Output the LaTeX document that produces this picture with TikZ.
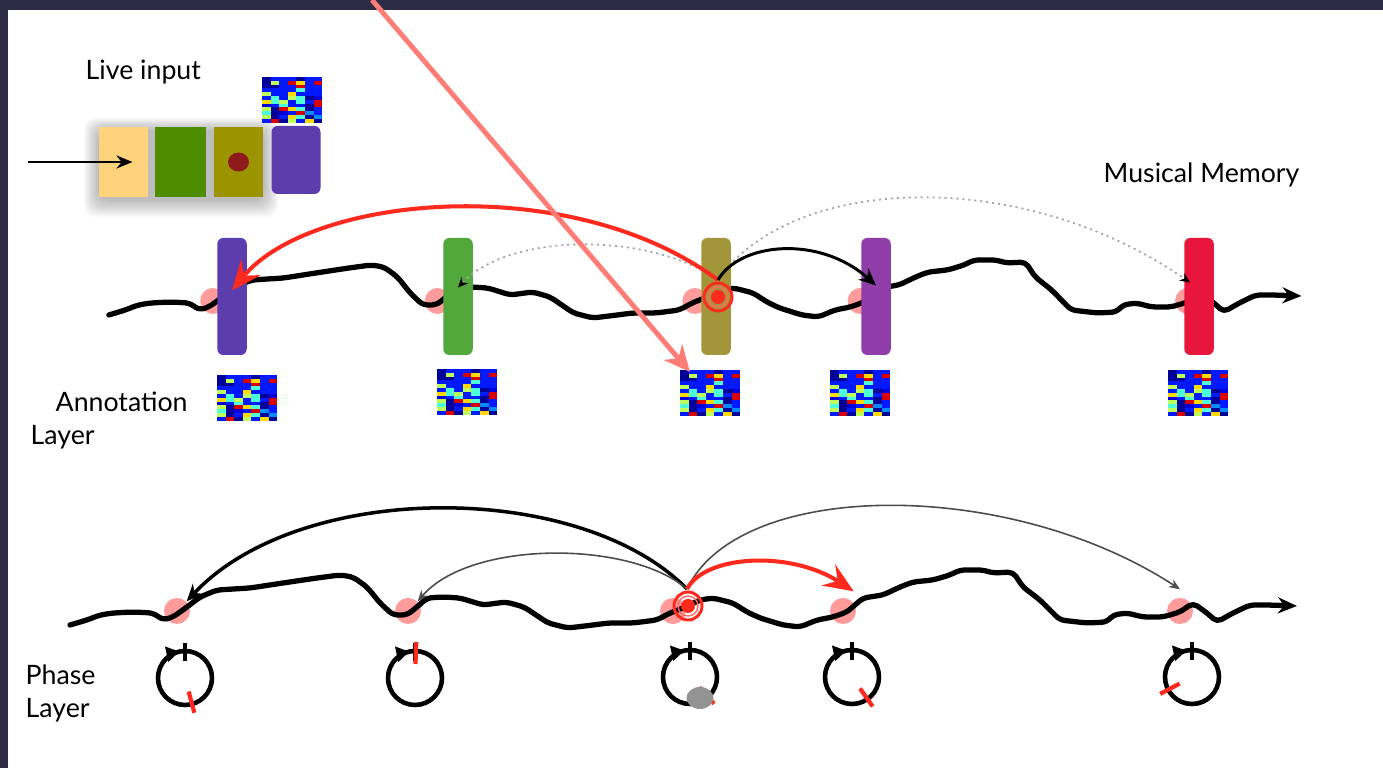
\documentclass[tikz,border=0pt]{standalone}
\usepackage{fontspec}
\setmainfont{Lato}
\usepackage{xcolor}
\usetikzlibrary{arrows.meta,positioning}
\definecolor{slate}{HTML}{2D2C44}
\definecolor{cueline}{HTML}{FF7D76}
\definecolor{hitred}{HTML}{FF2A1E}
\definecolor{onsetpink}{HTML}{FF8A8A}
\definecolor{boxpurple}{HTML}{5B3DAE}
\definecolor{boxgreen}{HTML}{52A83A}
\definecolor{boxolive}{HTML}{A3953A}
\definecolor{boxviolet}{HTML}{8F3DA8}
\definecolor{boxred}{HTML}{E8163C}
\definecolor{liveyellow}{HTML}{FFD37C}
\definecolor{livegreen}{HTML}{4F8D00}
\definecolor{liveolive}{HTML}{9B9300}
\definecolor{livedot}{HTML}{8E1B1B}
% chroma colours
\definecolor{hm0}{rgb}{0,0.1,1}
\definecolor{hm1}{rgb}{0,0,0.85}
\definecolor{hm2}{rgb}{0,0,0.6}
\definecolor{hm3}{rgb}{0,0.55,1}
\definecolor{hm4}{rgb}{0.3,1,0.85}
\definecolor{hm5}{rgb}{0.75,1,0.35}
\definecolor{hm6}{rgb}{1,0.85,0}
\definecolor{hm7}{rgb}{0.85,0,0}
\newcommand{\heatmap}[3]{%
  \coordinate (#3) at (#1,#2);
  \pgfmathsetseed{4321}
  \foreach \hr in {0,...,11}{
    \foreach \hc in {0,...,6}{
      \pgfmathrandominteger{\hv}{0}{15}
      \pgfmathtruncatemacro{\hk}{{0,0,0,0,1,2,2,0,3,4,5,6,0,4,7,2}[\hv]}
      \fill[fill=hm\hk] ({#1+\hc*8.6},{#2+\hr*3.8}) rectangle ++(8.65,3.85);
    }}
}
\newcommand{\phaseclock}[3]{%
  \draw[clockline] (#1,#2) circle[radius=27];
  \draw[clockline,-{Triangle[length=1.3mm,width=1.5mm]}] (#1,#2) ++(232:27) arc[start angle=232,end angle=258,radius=27];
  \draw[clockline] (#1,{#2-17}) -- (#1,{#2-35});
  \draw[phasetick] (#1,#2) ++(#3:14) -- ++(#3:22);
}
\newcommand{\hitmark}[1]{%
  \draw[hitred,line width=0.85pt] (#1) circle[radius=14];
  \draw[hitred!70,line width=0.4pt] (#1) circle[radius=10];
  \fill[hitred] (#1) circle[radius=7];
}
\newcommand{\groovepath}{(70,625) -- (87,620) -- (100,615) -- (113,613) -- (133,612) -- (153,613) -- (163,620) -- (173,617) -- (187,607) -- (200,597) -- (217,590) -- (250,588) -- (283,583) -- (317,578) -- (340,575) -- (353,577) -- (367,587) -- (380,603) -- (393,615) -- (407,615) -- (417,607) -- (427,598) -- (443,597) -- (460,598) -- (483,605) -- (506,602) -- (524,607) -- (548,623) -- (568,628) -- (593,625) -- (609,623) -- (633,623) -- (657,620) -- (670,613) -- (683,608) -- (700,600) -- (713,598) -- (733,603) -- (747,612) -- (760,618) -- (783,625) -- (800,627) -- (817,620) -- (833,617) -- (847,612) -- (863,598) -- (883,595) -- (900,587) -- (913,582) -- (933,580) -- (950,575) -- (960,570) -- (983,570) -- (993,573) -- (1013,572) -- (1023,587) -- (1040,600) -- (1060,620) -- (1087,623) -- (1107,622) -- (1113,615) -- (1127,613) -- (1143,617) -- (1163,617) -- (1180,612) -- (1193,603) -- (1207,613) -- (1217,622) -- (1233,613) -- (1250,605) -- (1267,605) -- (1297,606)}

\begin{document}
\begin{tikzpicture}[x=0.1mm,y=-0.1mm,>=Stealth,
  groove/.style={line width=1.5pt,line join=round,line cap=round,rounded corners=0.5mm,-{Stealth[length=1.9mm,width=1.6mm]}},
  onset/.style={circle,fill=onsetpink,opacity=0.85,minimum size=2.6mm,inner sep=0pt},
  memslot/.style={rectangle,rounded corners=0.6mm,minimum width=2.95mm,minimum height=11.7mm,inner sep=0pt},
  livebox/.style={rectangle,minimum width=4.9mm,minimum height=7mm,inner sep=0pt},
  lbl/.style={font=\fontsize{7.6}{9}\selectfont,anchor=base west,inner sep=0pt},
  ghost/.style={gray!70,line width=0.5pt,dash pattern=on 0.6pt off 1.1pt,-{Stealth[length=1mm,width=0.9mm,color=black]}},
  faint/.style={black!70,line width=0.45pt,-{Stealth[length=1.1mm,width=0.9mm]}},
  heavy/.style={black,line width=1pt,-{Stealth[length=1.7mm,width=1.5mm]}},
  jump/.style={hitred,line width=1.15pt,-{Stealth[length=3mm,width=2.5mm,inset=1.1mm]}},
  cue/.style={cueline,line width=1.4pt,-{Stealth[length=2.6mm,width=2.4mm,inset=0.8mm]}},
  clockline/.style={black,line width=1.3pt},
  phasetick/.style={hitred,line width=1.2pt}]
  \useasboundingbox (0,0) rectangle (1383,768);
  \fill[slate] (0,0) rectangle (1383,768);
  \fill[white] (8,10) rectangle (1383,768);

  % live input
  \foreach \s in {1,...,10}
    \fill[black,opacity=0.028,rounded corners=1.2mm] ({99-1.5*\s},{131-1.3*\s}) rectangle ({263+1.5*\s},{199+1.8*\s});
  \node[livebox,fill=liveyellow] (liveY) at (123.5,162) {};
  \node[livebox,fill=livegreen,minimum width=5.1mm] (liveG) at (180.5,162) {};
  \node[livebox,fill=liveolive] (liveO) at (238.5,162) {};
  \node[livebox,fill=boxpurple,rounded corners=0.6mm,minimum height=6.8mm] (liveP) at (296,160) {};
  \fill[livedot] (liveO.center) ellipse[x radius=10.5,y radius=9.5];
  \heatmap{262}{77}{hmLive}
  \coordinate (feedIn) at (28,162);
  \draw[black,line width=0.75pt,-{Stealth[length=1.6mm,width=1.3mm]}] (feedIn) -- ([xshift=0.9mm]liveY.center);
  \node[lbl] (liveLbl) at (85,80) {Live input};

  % musical memory
  \node[lbl] (memLbl) at (1103,183) {Musical Memory};
  \begin{scope}[shift={(40.8,-310)},xscale=0.972]
    \foreach \px in {177,408,673,843,1180}
      \fill[onsetpink,opacity=0.85] (\px,611) circle[radius=13];
    \draw[groove] \groovepath;
  \end{scope}
  \node[memslot,fill=boxpurple] (m1) at (232,296.5) {};
  \node[memslot,fill=boxgreen] (m2) at (458,296.5) {};
  \node[memslot,fill=boxviolet] (m4) at (876,296.5) {};
  \node[memslot,fill=boxred] (m5) at (1199,296.5) {};
  \coordinate (srcTop) at (718,280);
  \draw[ghost] (srcTop) .. controls (650,232) and (510,232) .. ([yshift=0.9mm]m2.center);
  \draw[ghost] (srcTop) .. controls (790,175) and (1020,165) .. ([shift={(-0.9mm,1.4mm)}]m5.center);
  \node[memslot,fill=boxolive] (m3) at (716,296.5) {};
  \draw[jump] (srcTop) .. controls (570,170) and (310,195) .. ([yshift=0.6mm]m1.center);
  \draw[heavy,line width=0.85pt] (srcTop) .. controls (740,242) and (820,235) .. ([yshift=1.1mm]m4.center);
  \coordinate (hitTop) at (718,297);
  \hitmark{hitTop}

  % annotation layer
  \heatmap{217}{375}{hm1}
  \heatmap{437}{369}{hm2}
  \heatmap{680}{370}{hm3}
  \heatmap{830}{370}{hm4}
  \heatmap{1168}{370}{hm5}
  \node[lbl] (annLbl) at (55,412) {Annotation};
  \node[lbl] (annLbl2) at (30,445) {Layer};

  % phase layer
  \node[onset] (p1) at (177,611) {};
  \node[onset] (p2) at (408,611) {};
  \node[onset] (p3) at (673,611) {};
  \node[onset] (p4) at (843,611) {};
  \node[onset] (p5) at (1180,611) {};
  \draw[groove] \groovepath;
  \coordinate (srcBot) at (687,589);
  \draw[heavy] (srcBot) .. controls (580,480) and (300,480) .. (p1.north east);
  \draw[faint] (srcBot) .. controls (630,540) and (470,540) .. (p2.north east);
  \draw[faint] (srcBot) .. controls (740,478) and (1010,478) .. ([yshift=0.8mm]p5.north);
  \draw[jump] (srcBot) .. controls (705,555) and (790,550) .. ([shift={(0.1mm,1mm)}]p4.north east);
  \coordinate (hitBot) at (688,606);
  \hitmark{hitBot}
  \phaseclock{185}{678}{75}
  \phaseclock{415}{678}{-88}
  \phaseclock{690}{677}{48}
  \fill[gray!85] (700,698) ellipse[x radius=13.5,y radius=11];
  \phaseclock{852}{677}{55}
  \phaseclock{1192}{677}{152}
  \node[lbl] (phLbl) at (25,685) {Phase};
  \node[lbl] (phLbl2) at (25,718) {Layer};

  % live cue into the annotation
  \coordinate (cueFrom) at (372,0);
  \draw[cue] (cueFrom) -- ([shift={(1mm,-0.2mm)}]hm3);
\end{tikzpicture}
\end{document}
